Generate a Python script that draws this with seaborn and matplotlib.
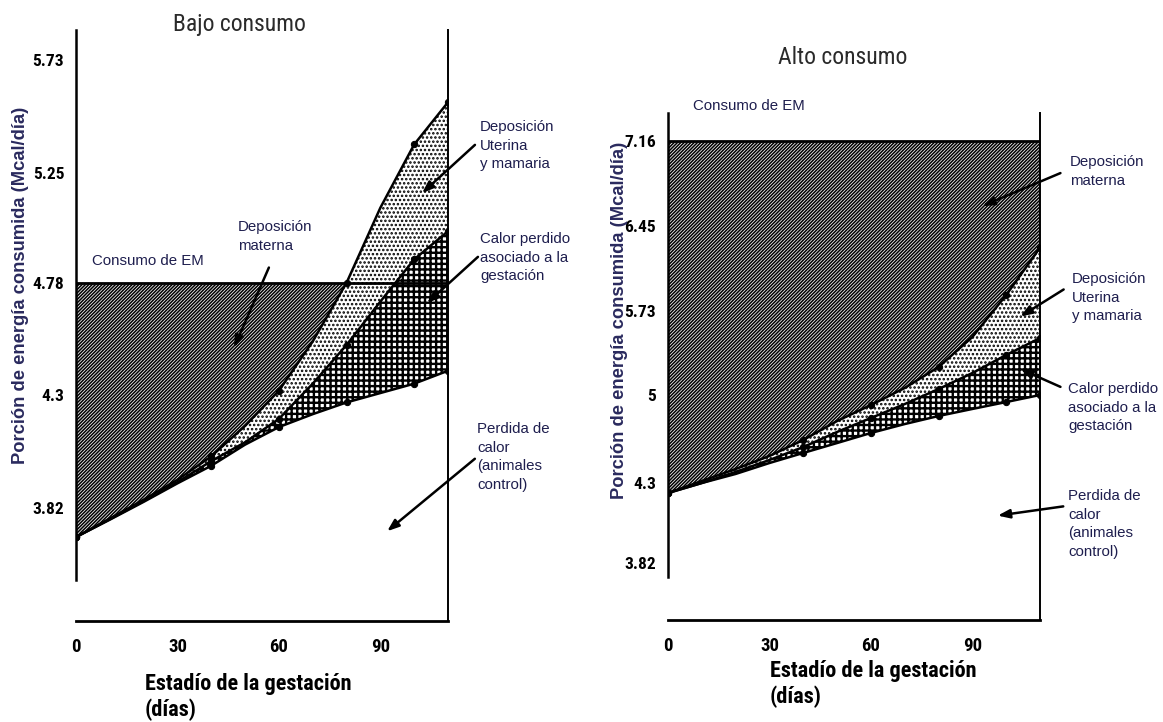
import numpy as np
import pandas as pd
import matplotlib
matplotlib.use("Agg")
import matplotlib.pyplot as plt
import seaborn as sns
from matplotlib import font_manager
from matplotlib.font_manager import FontProperties
from matplotlib.patches import FancyArrowPatch

# ---------------- data ----------------
dias = [0, 10, 20, 30, 40, 50, 60, 70, 80, 90, 100, 110]

# Bajo consumo (Mcal/dia)
bajo_consumo_em = 4.78
bajo_perdida_calor = [3.696, 3.77, 3.846, 3.925, 4.00, 4.09, 4.165, 4.22, 4.27, 4.31, 4.35, 4.405]
bajo_calor_gestacion = [3.696, 3.772, 3.85, 3.93, 4.02, 4.10, 4.20, 4.35, 4.515, 4.70, 4.88, 5.00]
bajo_deposicion_uterina = [3.696, 3.775, 3.855, 3.94, 4.04, 4.17, 4.32, 4.53, 4.78, 5.10, 5.37, 5.55]

# Alto consumo (Mcal/dia)
alto_consumo_em = 7.16
alto_perdida_calor = [4.24, 4.30, 4.372, 4.459, 4.539, 4.618, 4.698, 4.769, 4.833, 4.889, 4.944, 5.00]
alto_calor_gestacion = [4.24, 4.30, 4.388, 4.483, 4.586, 4.706, 4.817, 4.928, 5.052, 5.191, 5.348, 5.495]
alto_deposicion_uterina = [4.24, 4.316, 4.411, 4.515, 4.642, 4.793, 4.920, 5.061, 5.243, 5.504, 5.865, 6.266]

xticks = [0, 30, 60, 90]
yticks_bajo = [3.82, 4.3, 4.78, 5.25, 5.73]
yticklabels_bajo = ["3.82", "4.3", "4.78", "5.25", "5.73"]
yticks_alto = [3.82, 4.3, 5.0, 5.73, 6.45, 7.16]
yticklabels_alto = ["3.82", "4.3", "5", "5.73", "6.45", "7.16"]

titulos = ["Bajo consumo", "Alto consumo"]
ylabel = "Porción de energía consumida (Mcal/día)"
xlabel = "Estadío de la gestación\n(días)"

# ---------------- style ----------------
sns.set_theme(style="white")
ttf = font_manager.fontManager.ttflist
names = {f.name for f in ttf}
REG = "Liberation Sans" if "Liberation Sans" in names else "DejaVu Sans"
plt.rcParams["font.family"] = [REG, "DejaVu Sans"]
TXT = "#1e1e4e"


def find_condensed():
    prefs = ["Liberation Sans Narrow", "Arial Narrow", "Roboto Condensed",
             "Open Sans Condensed", "Noto Sans Condensed", "DejaVu Sans"]
    for p in prefs:
        cands = [f for f in ttf if f.name == p and
                 (p != "DejaVu Sans" or str(f.stretch) in ("condensed", "semi-condensed"))
                 and str(f.style) == "normal"]
        if p.startswith("Noto") or p.startswith("Open") or p.startswith("Roboto"):
            cands = [f for f in ttf if f.name.startswith(p) and str(f.style) == "normal"] or cands
        if cands:
            reg = [f for f in cands if f.weight in (400, "normal", "regular")]
            bold = [f for f in cands if f.weight in (700, "bold")]
            if reg and bold:
                return reg[0].fname, bold[0].fname
    anyc = [f for f in ttf if ("Condensed" in f.fname or "Narrow" in f.fname) and str(f.style) == "normal"]
    reg = [f for f in anyc if "Bold" not in f.fname and "Light" not in f.fname and "Thin" not in f.fname]
    bold = [f for f in anyc if "Bold" in f.fname and "Semi" not in f.fname and "Extra" not in f.fname]
    if reg and bold:
        return reg[0].fname, bold[0].fname
    return None, None


cond_reg, cond_bold = find_condensed()


def cfont(size, bold=False):
    if cond_reg is not None:
        fpp = FontProperties(fname=cond_bold if bold else cond_reg)
        fpp.set_size(size)
        return fpp
    return FontProperties(family=REG, weight="bold" if bold else "normal", size=size * 0.85)


W, H = 1163, 722
fig = plt.figure(figsize=(W / 100, H / 100), dpi=100)


def fp(x, y):
    return (x / W, 1 - y / H)


def ax_rect(x0, y0, x1, y1):
    return [x0 / W, 1 - y1 / H, (x1 - x0) / W, (y1 - y0) / H]


ax1 = fig.add_axes(ax_rect(76, 30, 448, 621))
ax2 = fig.add_axes(ax_rect(668, 113, 1040, 620))

# piecewise scale for the alto panel (uneven tick spacing in the original)
alto_tick_heights = [0, 80, 168, 252, 337, 422]
lo_slope = (alto_tick_heights[1] - alto_tick_heights[0]) / (yticks_alto[1] - yticks_alto[0])
hi_slope = (alto_tick_heights[-1] - alto_tick_heights[-2]) / (yticks_alto[-1] - yticks_alto[-2])
vals_ext = [2.0] + yticks_alto + [9.0]
pos_ext = ([alto_tick_heights[0] - (yticks_alto[0] - 2.0) * lo_slope] + alto_tick_heights
           + [alto_tick_heights[-1] + (9.0 - yticks_alto[-1]) * hi_slope])


def fwd(v):
    return np.interp(np.asarray(v, dtype=float), vals_ext, pos_ext)


def inv(p):
    return np.interp(np.asarray(p, dtype=float), pos_ext, vals_ext)


ax2.set_yscale("function", functions=(fwd, inv))

mark_idx = [0, 4, 6, 8, 10, 11]


def draw_panel(ax, bottom, mid, top, em, ylim, yticks, ylabels, left_bound):
    x = np.array(dias, dtype=float)
    bottom = np.array(bottom)
    mid = np.array(mid)
    top = np.array(top)
    plt.rcParams["hatch.linewidth"] = 1.1
    ax.fill_between(x, top, em, where=top <= em + 1e-9, interpolate=True,
                    facecolor="#ededed", edgecolor="black", hatch="//////////", linewidth=0, zorder=1)
    plt.rcParams["hatch.linewidth"] = 1.2
    ax.fill_between(x, mid, top, facecolor="white", edgecolor="black",
                    hatch="....", linewidth=0, zorder=1)
    plt.rcParams["hatch.linewidth"] = 1.7
    ax.fill_between(x, bottom, mid, facecolor="white", edgecolor="black",
                    hatch="+++", linewidth=0, zorder=1)
    df = pd.DataFrame({"dias": x, "perdida": bottom, "calor": mid, "uterina": top})
    for col in ["perdida", "calor", "uterina"]:
        sns.lineplot(data=df, x="dias", y=col, ax=ax, color="black", linewidth=1.8,
                     marker="o", markersize=4.5, markevery=mark_idx, markeredgecolor="black",
                     markerfacecolor="black", legend=False, zorder=3)
    df_em = pd.DataFrame({"dias": [x[0], x[-1]], "em": [em, em]})
    sns.lineplot(data=df_em, x="dias", y="em", ax=ax, color="black", linewidth=2, legend=False, zorder=3)

    ax.set_xlim(0, 110)
    ax.set_ylim(*ylim)
    ax.set_xlabel("")
    ax.set_ylabel("")
    ax.set_xticks(xticks)
    ax.set_xticklabels([str(t) for t in xticks], fontproperties=cfont(13.5, True))
    ax.set_yticks(yticks)
    ax.set_yticklabels(ylabels, fontproperties=cfont(12.5, True))
    ax.tick_params(axis="x", direction="in", length=7, width=1.6, pad=12, colors="black")
    ax.tick_params(axis="y", direction="inout", length=7, width=1.3, pad=5, colors="black")
    ax.spines["top"].set_visible(False)
    for s in ["left", "bottom", "right"]:
        ax.spines[s].set_color("black")
    ax.spines["left"].set_linewidth(1.8)
    ax.spines["bottom"].set_linewidth(2.0)
    ax.spines["right"].set_linewidth(1.4)
    ax.spines["left"].set_bounds(left_bound, ylim[1])
    ax.set_facecolor("white")


draw_panel(ax1, bajo_perdida_calor, bajo_calor_gestacion, bajo_deposicion_uterina,
           bajo_consumo_em, (3.338, 5.858), yticks_bajo, yticklabels_bajo, 3.513)
draw_panel(ax2, alto_perdida_calor, alto_calor_gestacion, alto_deposicion_uterina,
           alto_consumo_em, (3.478, 7.394), yticks_alto, yticklabels_alto, 3.736)

# titles
fig.text(*fp(239, 24), titulos[0], ha="center", va="center",
         fontproperties=cfont(17), color="#2a2a2a")
fig.text(*fp(843, 57), titulos[1], ha="center", va="center",
         fontproperties=cfont(17), color="#2a2a2a")

# axis labels
fig.text(*fp(21, 285), ylabel, rotation=90, ha="center", va="center", fontsize=13.2,
         fontweight="bold", color="#2a2a5e")
fig.text(*fp(619, 320), ylabel, rotation=90, ha="center", va="center", fontsize=13.2,
         fontweight="bold", color="#2a2a5e")
fig.text(*fp(145, 697), xlabel, ha="left", va="center", fontproperties=cfont(16, True),
         linespacing=1.2, color="black")
fig.text(*fp(770, 684), xlabel, ha="left", va="center", fontproperties=cfont(16, True),
         linespacing=1.2, color="black")

# annotations: (text, text-x, first-line-center-y)
notes = [
    ("Consumo de EM", 92, 262),
    ("Deposición\nmaterna", 238, 228),
    ("Deposición\nUterina\ny mamaria", 480, 128),
    ("Calor perdido\nasociado a la\ngestación", 480, 240),
    ("Perdida de\ncalor\n(animales\ncontrol)", 477, 430),
    ("Consumo de EM", 693, 107),
    ("Deposición\nmaterna", 1070, 163),
    ("Deposición\nUterina\ny mamaria", 1072, 280),
    ("Calor perdido\nasociado a la\ngestación", 1068, 390),
    ("Perdida de\ncalor\n(animales\ncontrol)", 1068, 497),
]
for txt, tx, ty in notes:
    fig.text(*fp(tx, ty - 8), txt, ha="left", va="top", fontsize=10.8,
             linespacing=1.42, color=TXT)

arrows = [
    ((270, 265), (233, 350)),
    ((477, 143), (420, 195)),
    ((480, 255), (425, 305)),
    ((477, 457), (385, 533)),
    ((1063, 172), (980, 207)),
    ((1066, 288), (1018, 318)),
    ((1063, 388), (1018, 368)),
    ((1066, 506), (995, 516)),
]
for (a, b) in arrows:
    arr = FancyArrowPatch(fp(*a), fp(*b), transform=fig.transFigure,
                          arrowstyle="-|>,head_length=7,head_width=2.6",
                          color="black", linewidth=1.8, zorder=10)
    fig.add_artist(arr)

fig.savefig("out.png", dpi=100, facecolor="white")
